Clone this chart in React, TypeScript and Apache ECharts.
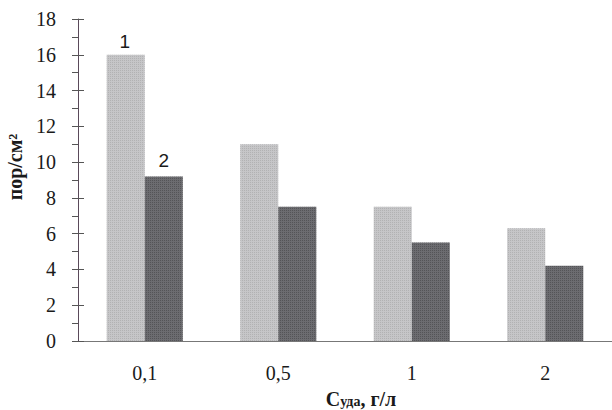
import React, { useEffect, useRef } from "react";
import * as echarts from "echarts";

const categories = ["0,1", "0,5", "1", "2"];
const series1 = [16, 11, 7.5, 6.3];
const series2 = [9.2, 7.5, 5.5, 4.2];
const seriesNames = ["1", "2"];
const yTicks = { min: 0, max: 18, interval: 2 };

export default function App() {
  const ref = useRef<HTMLDivElement>(null);
  useEffect(() => {
    const chart = echarts.init(ref.current!, null, { renderer: "svg" });
    const serif = "Liberation Serif";
    const sans = "Liberation Sans";
    chart.setOption({
      animation: false,
      backgroundColor: "#ffffff",
      grid: { left: 78, top: 19, right: 0, bottom: 69, outerBoundsMode: "none", containLabel: false },
      xAxis: {
        type: "category",
        data: categories,
        axisLine: { lineStyle: { color: "#777", width: 1 } },
        axisTick: { alignWithLabel: true, length: 5, lineStyle: { color: "#777" } },
        axisLabel: { fontFamily: serif, fontSize: 20, color: "#1a1a1a", margin: 22 },
        name: "{c|C}{s|уда}{c|, г/л}",
        nameLocation: "middle",
        nameGap: 48,
        nameTextStyle: {
          rich: {
            c: { fontFamily: serif, fontSize: 20, fontWeight: "bold", color: "#1a1a1a", lineHeight: 20 },
            s: { fontFamily: serif, fontSize: 14, fontWeight: "bold", color: "#1a1a1a", lineHeight: 14, padding: [5, 0, 0, 0] },
          },
          padding: [0, 0, 0, 32],
        },
      },
      yAxis: [
        {
          type: "value",
          min: yTicks.min,
          max: yTicks.max,
          interval: yTicks.interval,
          splitLine: { show: false },
          axisLine: { show: true, lineStyle: { color: "#5a4a5a", width: 1 } },
          axisTick: { show: true, length: 6, lineStyle: { color: "#555" } },
          minorTick: { show: true, splitNumber: 2, length: 6, lineStyle: { color: "#555" } },
          axisLabel: { fontFamily: serif, fontSize: 20, color: "#1a1a1a", margin: 22 },
          name: "пор/см²",
          nameLocation: "middle",
          nameGap: 52,
          nameRotate: 90,
          nameTextStyle: { fontFamily: serif, fontSize: 20, fontWeight: "bold", color: "#1a1a1a", padding: [0, 0, 0, 26] },
        },
        {
          type: "value",
          position: "left",
          min: yTicks.min,
          max: yTicks.max,
          interval: yTicks.interval,
          splitLine: { show: false },
          axisLine: { show: false },
          axisTick: { show: true, inside: true, length: 6, lineStyle: { color: "#555" } },
          axisLabel: { show: false },
        },
      ],
      series: [
        {
          name: seriesNames[0],
          type: "bar",
          data: series1.map((v, i) =>
            i === 0
              ? { value: v, label: { show: true, position: "top", formatter: seriesNames[0], fontFamily: sans, fontSize: 19, color: "#1a1a1a", distance: 4, offset: [-1, 0] } }
              : v
          ),
          barGap: "0%",
          barCategoryGap: "43%",
          itemStyle: {
            color: "#c6c6c8",
            decal: { symbol: "rect", symbolSize: 1, dashArrayX: [1, 1], dashArrayY: [1, 1], color: "rgba(140,140,140,0.35)" },
          },
        },
        {
          name: seriesNames[1],
          type: "bar",
          data: series2.map((v, i) =>
            i === 0
              ? { value: v, label: { show: true, position: "top", formatter: seriesNames[1], fontFamily: sans, fontSize: 19, color: "#1a1a1a", distance: 6 } }
              : v
          ),
          barGap: "0%",
          barCategoryGap: "43%",
          itemStyle: {
            color: "#6c6c70",
            decal: { symbol: "rect", symbolSize: 1, dashArrayX: [1, 1], dashArrayY: [1, 1], color: "rgba(40,40,40,0.35)" },
          },
        },
      ],
    });
    return () => chart.dispose();
  }, []);
  return (
    <div
      ref={ref}
      style={{ position: "fixed", left: 0, top: 0, width: 612, height: 410 }}
    />
  );
}
